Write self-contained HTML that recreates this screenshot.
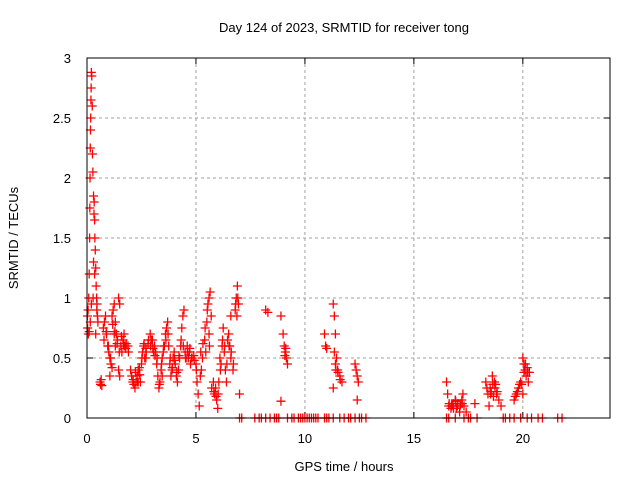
<!DOCTYPE html>
<html><head><meta charset="utf-8"><style>
body{margin:0;background:#fff;}
svg text{font-family:"Liberation Sans",sans-serif;font-size:13px;fill:#000;}
</style></head><body>
<svg id="chart" width="640" height="480" xmlns="http://www.w3.org/2000/svg">
<rect width="640" height="480" fill="#fff"/>
<text x="344" y="32" text-anchor="middle">Day 124 of 2023, SRMTID for receiver tong</text>
<text x="344" y="471" text-anchor="middle">GPS time / hours</text>
<text transform="translate(18,238) rotate(-90)" text-anchor="middle">SRMTID / TECUs</text>
<g id="grid"></g><g id="ticks"></g><g id="marks"></g>
<rect x="87" y="58" width="523" height="360" fill="none" stroke="#000" stroke-width="1"/>
</svg>
<script>
const xTicks=[0,5,10,15,20];
const yTicks=[0,0.5,1,1.5,2,2.5,3];
const yTickLabels=["0","0.5","1","1.5","2","2.5","3"];
const hours=[0.02,0.03,0.05,0.06,0.08,0.1,0.12,0.13,0.14,0.15,0.16,0.17,0.18,0.19,0.2,0.22,0.24,0.25,0.27,0.3,0.32,0.33,0.35,0.36,0.38,0.4,0.42,0.44,0.46,0.48,0.5,0.3,0.35,0.28,0.2,0.15,0.1,0.4,0.45,
0.6,0.62,0.65,0.68,
0.75,0.8,0.85,0.9,0.95,1.0,1.05,1.1,1.15,1.2,1.25,1.3,1.35,1.4,1.45,1.5,1.55,1.6,1.65,1.7,1.75,1.8,1.9,1.05,1.15,1.3,1.45,1.5,
2.0,2.05,2.1,2.15,2.2,2.25,2.3,2.35,2.4,2.45,2.5,2.55,2.6,2.65,2.7,2.8,2.9,3.0,3.1,3.15,3.2,3.25,3.3,3.35,3.4,3.45,3.5,3.6,3.65,3.7,3.75,3.8,3.85,3.9,3.95,4.0,4.1,4.15,4.2,4.3,4.35,4.4,4.45,4.5,4.55,4.6,4.7,4.8,4.9,5.0,5.05,5.1,5.15,5.2,5.3,5.4,5.5,5.55,5.6,5.65,5.7,5.6,5.8,5.85,5.9,5.95,6.0,6.05,6.1,6.2,6.25,6.3,6.35,6.4,6.45,6.5,6.55,6.6,6.7,6.8,6.85,6.9,6.95,6.88,7.0,
8.2,8.3,8.9,9.0,9.05,9.1,9.15,9.2,8.9,10.9,10.95,11.0,11.3,11.35,11.4,11.35,11.4,11.5,11.6,11.7,11.3,11.45,12.3,12.35,12.4,12.45,12.4,
16.5,16.55,16.6,16.7,16.8,16.9,17.0,17.1,17.2,17.25,17.3,17.4,17.8,18.3,18.4,18.5,18.6,18.7,18.8,18.9,19.0,18.45,19.6,19.7,19.8,19.9,20.0,20.05,20.1,20.15,20.2,20.25,20.0,
2.7,3.05,3.55,4.25,4.75,5.25,1.25,1.7,2.35,2.95,3.45,4.05,4.65,5.45,6.15,6.6,16.75,16.95,17.15,18.55,18.65,18.75,19.75,19.95,20.3,
0.78,0.88,0.98,1.08,1.18,1.28,1.38,1.48,1.58,1.68,1.78,1.88,2.12,2.22,2.32,2.42,2.52,2.62,2.72,2.82,2.92,3.02,3.12,3.22,3.32,3.42,3.52,3.62,3.72,3.82,3.92,4.02,4.12,4.22,4.32,4.42,4.52,4.62,4.72,4.82,4.92,5.02,5.22,5.32,5.42,5.52,5.62,5.72,5.82,5.92,6.02,6.12,6.22,6.32,6.42,6.52,6.62,6.72,6.82,6.92,
16.62,16.72,16.82,16.92,17.02,17.12,17.22,18.35,18.52,18.62,18.72,18.82,19.65,19.85,20.05,20.12,20.22,11.42,11.52,11.62,9.08,9.12];
const values=[0.85,0.75,0.9,0.7,1.0,1.2,1.5,1.75,2.0,2.25,2.4,2.5,2.65,2.75,2.88,2.85,2.6,2.2,2.05,1.85,1.7,1.8,1.65,1.5,1.4,1.25,1.1,1.0,0.95,0.85,0.8,1.3,1.2,1.0,0.95,0.8,0.72,0.7,0.9,
0.3,0.28,0.32,0.27,
0.75,0.8,0.85,0.7,0.6,0.55,0.5,0.45,0.85,0.9,0.95,0.8,0.7,0.65,1.0,0.95,0.6,0.55,0.65,0.7,0.6,0.62,0.55,0.35,0.42,0.6,0.4,0.35,
0.4,0.35,0.3,0.28,0.25,0.3,0.35,0.4,0.42,0.3,0.45,0.55,0.6,0.5,0.58,0.62,0.7,0.65,0.6,0.55,0.45,0.35,0.25,0.3,0.4,0.5,0.55,0.7,0.75,0.8,0.6,0.45,0.35,0.4,0.5,0.55,0.35,0.3,0.4,0.6,0.75,0.85,0.9,0.55,0.5,0.6,0.55,0.5,0.52,0.45,0.3,0.2,0.1,0.35,0.5,0.65,0.8,0.95,1.0,1.05,0.85,0.7,0.3,0.2,0.25,0.15,0.08,0.3,0.5,0.6,0.75,0.55,0.4,0.3,0.65,0.7,0.6,0.5,0.4,0.9,1.0,1.1,0.95,0.85,0.2,
0.9,0.88,0.85,0.7,0.6,0.55,0.5,0.45,0.14,0.7,0.6,0.58,0.95,0.85,0.7,0.55,0.45,0.4,0.35,0.3,0.25,0.5,0.45,0.4,0.35,0.3,0.15,
0.3,0.2,0.1,0.08,0.12,0.15,0.1,0.05,0.15,0.2,0.1,0.05,0.12,0.3,0.2,0.25,0.35,0.3,0.2,0.15,0.1,0.1,0.15,0.2,0.25,0.3,0.5,0.45,0.4,0.35,0.42,0.3,0.2,
0.5,0.55,0.6,0.5,0.45,0.4,0.7,0.6,0.3,0.65,0.35,0.45,0.5,0.55,0.45,0.85,0.1,0.08,0.12,0.22,0.18,0.28,0.22,0.28,0.38,
0.65,0.72,0.6,0.5,0.78,0.72,0.62,0.55,0.68,0.62,0.58,0.6,0.32,0.38,0.3,0.36,0.5,0.62,0.55,0.65,0.6,0.58,0.52,0.5,0.28,0.45,0.6,0.65,0.7,0.5,0.42,0.48,0.38,0.52,0.65,0.6,0.5,0.55,0.58,0.5,0.48,0.4,0.55,0.62,0.75,0.9,0.6,0.25,0.22,0.18,0.2,0.4,0.65,0.6,0.45,0.6,0.55,0.45,0.95,1.0,
0.12,0.1,0.08,0.14,0.12,0.1,0.12,0.25,0.2,0.28,0.25,0.22,0.18,0.28,0.38,0.45,0.38,0.4,0.38,0.32,0.52,0.58];
const zeroHours=[7.0,7.1,7.7,7.9,8.0,8.2,8.4,8.6,8.7,8.8,9.2,9.4,9.5,9.7,9.8,9.9,10.0,10.1,10.2,10.3,10.4,10.5,10.6,10.9,11.0,11.1,11.3,11.6,11.8,12.0,12.1,12.3,12.5,12.6,12.8,16.5,16.6,16.9,17.3,17.5,17.6,17.9,19.1,19.2,19.4,19.6,19.9,20.2,20.4,20.7,20.9,21.6,21.8];
const NS="http://www.w3.org/2000/svg";
const X=h=>87+h*523/24, Y=v=>418-v*120;
const grid=document.getElementById('grid'),ticks=document.getElementById('ticks'),marks=document.getElementById('marks');
function mk(tag,attrs,parent){const e=document.createElementNS(NS,tag);for(const k in attrs)e.setAttribute(k,attrs[k]);parent.appendChild(e);return e;}
xTicks.forEach(t=>{
 if(t>0){const g=mk('line',{x1:X(t),x2:X(t),y1:58,y2:418,stroke:'#a0a0a0','stroke-dasharray':'3,3'},grid);
 
 }
 mk('line',{x1:X(t),x2:X(t),y1:418,y2:412,stroke:'#000'},ticks);
 mk('line',{x1:X(t),x2:X(t),y1:58,y2:64,stroke:'#000'},ticks);
 const l=mk('text',{x:X(t),y:443,'text-anchor':'middle'},ticks);l.textContent=t;
 
 
});
yTicks.forEach((t,i)=>{
 if(t>0&&t<3){const g=mk('line',{x1:87,x2:610,y1:Y(t),y2:Y(t),stroke:'#a0a0a0','stroke-dasharray':'3,3'},grid);
 
 }
 mk('line',{x1:87,x2:93,y1:Y(t),y2:Y(t),stroke:'#000'},ticks);
 mk('line',{x1:610,x2:604,y1:Y(t),y2:Y(t),stroke:'#000'},ticks);
 const l=mk('text',{x:71,y:Y(t)+5,'text-anchor':'end'},ticks);l.textContent=yTickLabels[i];
 
 
});
function plus(h,v,name){
 const x=X(h),y=Y(v);
 const p=mk('path',{d:`M${x-4.5},${y}H${x+4.5}M${x},${y-4.5}V${y+4.5}`,stroke:'#ff0000','stroke-width':'1.3',fill:'none'},marks);
 
 
}
hours.forEach((h,i)=>plus(h,values[i],'srmtid-point'));
zeroHours.forEach(h=>plus(h,0,'zero-point'));
</script>
</body></html>
